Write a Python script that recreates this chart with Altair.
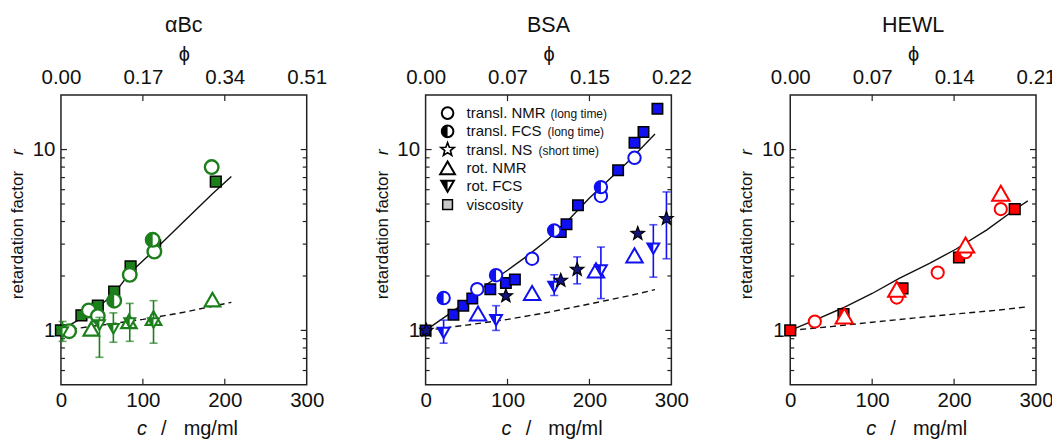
import altair as alt
import pandas as pd

FONT = "Liberation Sans"
INK = "#111111"

# ---------------- tick positions / labels ----------------
c_ticks = [0, 100, 200, 300]
r_major = [1, 10]
r_minor = [0.6, 0.7, 0.8, 0.9, 2, 3, 4, 5, 6, 7, 8, 9]

# ---------------- alpha-B crystallin ----------------
ab_phi = ["0.00", "0.17", "0.34", "0.51"]
ab_visc_c = [0, 25, 45, 65, 85, 115, 189]
ab_visc_r = [1.0, 1.21, 1.37, 1.64, 2.26, 2.95, 6.65]
ab_tnmr_c = [10, 34, 45, 84, 114, 184]
ab_tnmr_r = [0.99, 1.29, 1.2, 2.03, 2.73, 8.0]
ab_tfcs_c = [65, 112]
ab_tfcs_r = [1.46, 3.17]
ab_rnmr_c = [37, 83, 113, 185]
ab_rnmr_r = [1.02, 1.12, 1.17, 1.48]
ab_rfcs_c = [2, 47, 64, 84, 113]
ab_rfcs_r = [0.98, 1.07, 1.02, 1.1, 1.1]
ab_rfcs_lo = [0.87, 0.71, 0.86, 0.87, 0.85]
ab_rfcs_hi = [1.12, 1.18, 1.25, 1.41, 1.46]
ab_fit_c = [0, 25, 45, 65, 85, 113, 150, 185, 208]
ab_fit_r = [1.0, 1.17, 1.34, 1.6, 2.1, 2.75, 4.0, 5.7, 7.1]
ab_hs_c = [0, 50, 100, 150, 208]
ab_hs_r = [1.0, 1.07, 1.15, 1.26, 1.43]

# ---------------- BSA ----------------
bsa_phi = ["0.00", "0.07", "0.15", "0.22"]
bsa_visc_c = [0, 34, 46, 57, 79, 98, 109, 165, 172, 186, 235, 255, 266, 283]
bsa_visc_r = [1.0, 1.22, 1.37, 1.50, 1.69, 1.83, 1.91, 3.50, 3.86, 4.92, 7.68, 10.9, 12.5, 16.8]
bsa_tnmr_c = [63, 130, 214, 255]
bsa_tnmr_r = [1.69, 2.49, 5.54, 9.0]
bsa_tfcs_c = [22, 86, 157, 214]
bsa_tfcs_r = [1.51, 2.02, 3.57, 6.2]
bsa_tns_c = [1, 98, 165, 185, 259, 294]
bsa_tns_r = [1.0, 1.55, 1.89, 2.17, 3.43, 4.15]
bsa_tns_err_c = [185, 294]
bsa_tns_err_lo = [1.81, 2.49]
bsa_tns_err_hi = [2.55, 5.83]
bsa_rnmr_c = [64, 130, 208, 255]
bsa_rnmr_r = [1.24, 1.61, 2.15, 2.6]
bsa_rfcs_c = [22, 86, 157, 214, 278]
bsa_rfcs_r = [0.97, 1.14, 1.74, 2.15, 2.83]
bsa_rfcs_lo = [0.85, 1.0, 1.56, 1.50, 1.97]
bsa_rfcs_hi = [1.14, 1.37, 2.03, 2.89, 3.84]
bsa_fit_c = [0, 25, 50, 75, 100, 125, 150, 175, 200, 225, 250, 280]
bsa_fit_r = [1.0, 1.2, 1.45, 1.8, 2.15, 2.6, 3.2, 4.1, 5.4, 6.9, 8.8, 12.2]
bsa_hs_c = [0, 50, 100, 150, 200, 250, 280]
bsa_hs_r = [1.0, 1.07, 1.15, 1.26, 1.40, 1.56, 1.68]

# ---------------- HEWL ----------------
hewl_phi = ["0.00", "0.07", "0.14", "0.21"]
hewl_visc_c = [0, 65, 137, 206, 274]
hewl_visc_r = [1.0, 1.23, 1.71, 2.53, 4.69]
hewl_tnmr_c = [30, 130, 180, 214, 257]
hewl_tnmr_r = [1.12, 1.52, 2.09, 2.71, 4.69]
hewl_rnmr_c = [66, 130, 214, 257]
hewl_rnmr_r = [1.20, 1.69, 2.97, 5.74]
hewl_fit_c = [0, 30, 64, 100, 133, 170, 202, 240, 275, 290]
hewl_fit_r = [1.0, 1.14, 1.33, 1.6, 1.94, 2.35, 2.81, 3.6, 4.69, 5.2]
hewl_hs_c = [0, 50, 100, 150, 200, 250, 290]
hewl_hs_r = [1.0, 1.05, 1.11, 1.17, 1.23, 1.29, 1.35]

legend_labels = ["transl. NMR", "transl. FCS", "transl. NS", "rot. NMR", "rot. FCS", "viscosity"]
legend_notes = ["(long time)", "(long time)", "(short time)", "", "", ""]

# ---------------- styling ----------------
W, H = 246, 290
XS = alt.Scale(domain=[0, 300], nice=False, zero=False)
YS = alt.Scale(type="log", domain=[0.5, 20], nice=False)

HALF_CIRCLE = "M0,-1 A1,1 0 0,0 0,1 Z"
HALF_TRI_DOWN = "M-1,-0.866 L0,-0.866 L0,0.866 Z"
STAR = ("M0,-1 L0.247,-0.340 L0.951,-0.309 L0.399,0.130 L0.588,0.809 L0,0.42 "
        "L-0.588,0.809 L-0.399,0.130 L-0.951,-0.309 L-0.247,-0.340 Z")


def X(f="c", axis=None):
    return alt.X(f"{f}:Q", scale=XS, axis=axis)


def Y(f="r", axis=None):
    return alt.Y(f"{f}:Q", scale=YS, axis=axis)


AX = dict(ticks=False, domain=False, grid=False, labelFont=FONT, labelFontSize=20.5,
          labelColor=INK, tickSize=0, labelFlush=False)


def top_axis(phi):
    expr = "[" + ",".join(f"'{p}'" for p in phi) + "][round(datum.value / 100)]"
    return alt.Axis(orient="top", values=c_ticks, labelExpr=expr, labelPadding=8,
                    title="\u03d5", titleFont=FONT, titleFontSize=20, titleFontWeight="normal",
                    titlePadding=3, titleColor=INK, **AX)


BOTTOM_AXIS = alt.Axis(orient="bottom", values=c_ticks, labelPadding=6, title="", **AX)
LEFT_AXIS = alt.Axis(orient="left", values=r_major, format="~g", labelPadding=6, title="", **AX)


def df(c, r):
    return pd.DataFrame({"c": c, "r": r})


def pts(d, shape, size, fill, stroke=None, sw=0.0):
    kw = dict(shape=shape, size=size, filled=True, fill=fill, opacity=1)
    if stroke is not None:
        kw.update(stroke=stroke, strokeWidth=sw)
    else:
        kw.update(strokeWidth=0)
    return alt.Chart(d).mark_point(**kw).encode(x=X(), y=Y())


def errbars(c, lo, hi, color):
    d = pd.DataFrame({"c": c, "lo": lo, "hi": hi})
    rule = alt.Chart(d).mark_rule(color=color, strokeWidth=1.6).encode(
        x=X(), y=Y("lo"), y2="hi:Q")
    caps = alt.Chart(d).transform_fold(["lo", "hi"], as_=["k", "v"]).mark_tick(
        orient="horizontal", size=8, thickness=1.6, color=color).encode(x=X(), y=Y("v"))
    return [rule, caps]


def text(txt, x, y, size, italic=False, angle=0, align="center"):
    return alt.Chart(pd.DataFrame({"t": [txt]})).mark_text(
        font=FONT, fontSize=size, fontStyle="italic" if italic else "normal",
        angle=angle, align=align, baseline="middle", color=INK
    ).encode(x=alt.value(x), y=alt.value(y), text="t:N")


def frame_ticks(phi):
    ym = pd.DataFrame({"v": r_major})
    yn = pd.DataFrame({"v": r_minor})
    xt = pd.DataFrame({"v": c_ticks[1:-1]})
    st = dict(color="#222222", strokeWidth=1.2)
    return [
        alt.Chart(ym).mark_rule(**st).encode(y=Y("v", LEFT_AXIS), x=alt.value(0), x2=alt.value(6)),
        alt.Chart(ym).mark_rule(**st).encode(y=Y("v"), x=alt.value(W), x2=alt.value(W - 6)),
        alt.Chart(yn).mark_rule(**st).encode(y=Y("v"), x=alt.value(0), x2=alt.value(4)),
        alt.Chart(yn).mark_rule(**st).encode(y=Y("v"), x=alt.value(W), x2=alt.value(W - 4)),
        alt.Chart(xt).mark_rule(**st).encode(x=X("v", top_axis(phi)), y=alt.value(0), y2=alt.value(6)),
        alt.Chart(xt).mark_rule(**st).encode(x=X("v", BOTTOM_AXIS), y=alt.value(H), y2=alt.value(H - 6)),
    ]


def curves(fc, fr, hc, hr):
    return [
        alt.Chart(df(fc, fr)).mark_line(color=INK, strokeWidth=1.4).encode(x=X(), y=Y()),
        alt.Chart(df(hc, hr)).mark_line(color=INK, strokeWidth=1.4, strokeDash=[6, 4]).encode(x=X(), y=Y()),
    ]


def axis_titles():
    return [
        text("retardation factor", -43, 140, 17, angle=270),
        text("r", -43, 57, 17, italic=True, angle=270),
        text("c", 81, H + 44, 20, italic=True),
        text("/", 103, H + 44, 20),
        text("mg/ml", 150, H + 44, 20),
    ]


def finish(layers, title):
    return alt.layer(*layers).properties(
        width=W, height=H,
        title=alt.TitleParams(text=title, font=FONT, fontSize=21.5, fontWeight="normal",
                              color=INK, offset=8, anchor="middle"),
    ).resolve_axis(x="independent", y="independent")


# ---------------- panel 1: alpha-B crystallin ----------------
G = "#1c7f1c"
L1 = frame_ticks(ab_phi) + curves(ab_fit_c, ab_fit_r, ab_hs_c, ab_hs_r)
L1 += [pts(df(ab_visc_c, ab_visc_r), "square", 115, G, "#000000", 1.5)]
L1 += [pts(df(ab_tnmr_c, ab_tnmr_r), "circle", 185, "white", G, 2.4)]
L1 += [pts(df(ab_tfcs_c, ab_tfcs_r), "circle", 185, "white", G, 2.4),
       pts(df(ab_tfcs_c, ab_tfcs_r), HALF_CIRCLE, 185, G)]
L1 += [pts(df(ab_rnmr_c, ab_rnmr_r), "triangle-up", 240, "white", G, 2.2)]
L1 += errbars(ab_rfcs_c, ab_rfcs_lo, ab_rfcs_hi, G)
L1 += [pts(df(ab_rfcs_c, ab_rfcs_r), "triangle-down", 120, "white", G, 2.0),
       pts(df(ab_rfcs_c, ab_rfcs_r), HALF_TRI_DOWN, 120, G)]
L1 += axis_titles()
p1 = finish(L1, "\u03b1Bc")

# ---------------- panel 2: BSA ----------------
B = "#1010f0"
NAVY = "#14147e"
L2 = frame_ticks(bsa_phi) + curves(bsa_fit_c, bsa_fit_r, bsa_hs_c, bsa_hs_r)
L2 += [pts(df(bsa_visc_c, bsa_visc_r), "square", 110, B, "#000000", 1.5)]
L2 += [pts(df(bsa_tnmr_c, bsa_tnmr_r), "circle", 155, "white", B, 2.0)]
L2 += [pts(df(bsa_tfcs_c, bsa_tfcs_r), "circle", 155, "white", B, 2.0),
       pts(df(bsa_tfcs_c, bsa_tfcs_r), HALF_CIRCLE, 155, B)]
L2 += [pts(df(bsa_rnmr_c, bsa_rnmr_r), "triangle-up", 270, "white", B, 2.0)]
L2 += errbars(bsa_rfcs_c, bsa_rfcs_lo, bsa_rfcs_hi, B)
L2 += [pts(df(bsa_rfcs_c, bsa_rfcs_r), "triangle-down", 140, "white", B, 2.0),
       pts(df(bsa_rfcs_c, bsa_rfcs_r), HALF_TRI_DOWN, 140, B)]
L2 += errbars(bsa_tns_err_c, bsa_tns_err_lo, bsa_tns_err_hi, B)
L2 += [pts(df(bsa_tns_c, bsa_tns_r), STAR, 200, NAVY, "#000000", 1.2)]

# legend (inside BSA panel)
LX, LT, LY0, LDY = 22, 41, 18, 18.3
note_x = [125, 122, 113]
leg_syms = [
    ("circle", 135, "white", "#000000", 2.0, None),
    ("circle", 135, "white", "#000000", 2.0, HALF_CIRCLE),
    (STAR, 200, "white", "#000000", 1.6, None),
    ("triangle-up", 220, "white", "#000000", 2.0, None),
    ("triangle-down", 160, "white", "#000000", 2.0, HALF_TRI_DOWN),
    ("square", 95, "#c8c8c8", "#000000", 1.5, None),
]
one = pd.DataFrame({"k": [0]})
for i, (shape, size, fill, stroke, sw, half) in enumerate(leg_syms):
    yy = LY0 + i * LDY
    L2.append(alt.Chart(one).mark_point(shape=shape, size=size, filled=True, fill=fill,
                                        stroke=stroke, strokeWidth=sw, opacity=1)
              .encode(x=alt.value(LX), y=alt.value(yy)))
    if half is not None:
        L2.append(alt.Chart(one).mark_point(shape=half, size=size, filled=True, fill="#000000",
                                            strokeWidth=0, opacity=1)
                  .encode(x=alt.value(LX), y=alt.value(yy)))
    L2.append(text(legend_labels[i], LT, yy, 15, align="left"))
    if legend_notes[i]:
        L2.append(text(legend_notes[i], note_x[i], yy + 1, 12, align="left"))
L2 += axis_titles()
p2 = finish(L2, "BSA")

# ---------------- panel 3: HEWL ----------------
R = "#ff0000"
L3 = frame_ticks(hewl_phi) + curves(hewl_fit_c, hewl_fit_r, hewl_hs_c, hewl_hs_r)
L3 += [pts(df(hewl_visc_c, hewl_visc_r), "square", 115, R, "#000000", 1.5)]
L3 += [pts(df(hewl_tnmr_c, hewl_tnmr_r), "circle", 150, "white", R, 2.0)]
L3 += [pts(df(hewl_rnmr_c, hewl_rnmr_r), "triangle-up", 300, "white", R, 2.0)]
L3 += axis_titles()
p3 = finish(L3, "HEWL")

chart = alt.hconcat(p1, p2, p3, spacing=119, bounds="flush").configure_view(
    stroke="#222222", strokeWidth=1.5
).properties(padding={"left": 0, "top": 5, "right": -5, "bottom": 0})

chart.save("out.html", embed_options={"renderer": "svg", "actions": False})
